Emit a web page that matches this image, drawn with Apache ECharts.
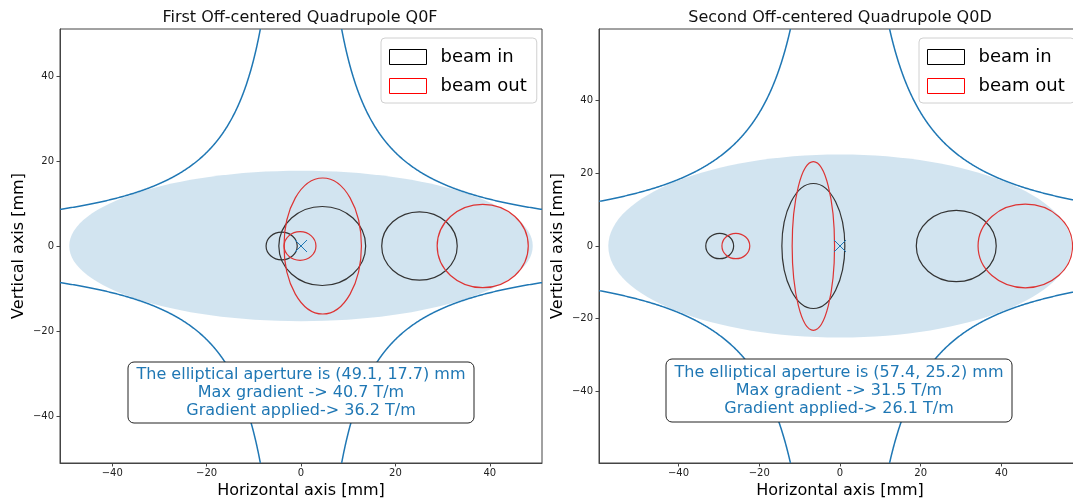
<!DOCTYPE html>
<html><head><meta charset="utf-8">
<script src="https://cdn.jsdelivr.net/npm/echarts@6/dist/echarts.min.js"></script>
<style>html,body{margin:0;padding:0;background:#fff}#c{width:1073px;height:502px}</style>
</head><body><div id="c"></div>
<script>
// ---------------- data ----------------
const titles = ['First Off-centered Quadrupole Q0F', 'Second Off-centered Quadrupole Q0D'];
const xTicks = [-40, -20, 0, 20, 40];
const yTicks = [-40, -20, 0, 20, 40];
const axisLimits = [51.06, 59.7];            // symmetric axis limits [mm]
const apertureSemiAxes = [[49.1, 17.7], [57.4, 25.2]];
const poleHyperbolaConst = [440, 733];       // |x*y| of the pole profile [mm^2]
// beam ellipses: [centerX, centerY, semiAxisX, semiAxisY]
const q0fBeamIn  = [[-4.1, 0, 3.3, 3.25], [4.5, 0, 9.2, 9.3], [25.1, 0, 8.0, 8.05]];
const q0fBeamOut = [[-0.2, 0, 3.37, 3.37], [4.6, 0, 8.2, 16.0], [38.5, 0, 9.65, 9.8]];
const q0dBeamIn  = [[-29.8, 0, 3.45, 3.5], [-6.6, 0, 7.8, 17.2], [28.8, 0, 9.9, 9.8]];
const q0dBeamOut = [[-25.8, 0, 3.45, 3.5], [-6.6, 0, 5.25, 23.2], [45.9, 0, 11.7, 11.5]];
const centerMarks = [[0, 0]];
const infoLines = [
  ['The elliptical aperture is (49.1, 17.7) mm', 'Max gradient -> 40.7 T/m', 'Gradient applied-> 36.2 T/m'],
  ['The elliptical aperture is (57.4, 25.2) mm', 'Max gradient -> 31.5 T/m', 'Gradient applied-> 26.1 T/m']
];
const legendNames = ['beam in', 'beam out'];

// ---------------- styles ----------------
const FONT = 'DejaVu Sans';
const C0 = '#1f77b4';
const BLACK_LINE = '#333333';
const RED_LINE = '#dd3333';

function ellipseSeries(name, data, idx, style, z) {
  return {
    type: 'custom', name: name, xAxisIndex: idx, yAxisIndex: idx, z: z,
    clip: true, silent: true,
    itemStyle: { color: style.stroke || style.fill },
    data: data,
    renderItem: function (params, api) {
      const c = api.coord([api.value(0), api.value(1)]);
      const s = api.size([api.value(2), api.value(3)]);
      return { type: 'ellipse', shape: { cx: c[0], cy: c[1], rx: s[0], ry: s[1] }, style: style };
    }
  };
}

function hyperbolaSeries(idx) {
  return {
    type: 'custom', xAxisIndex: idx, yAxisIndex: idx, z: 3, clip: true, silent: true,
    data: [[poleHyperbolaConst[idx], axisLimits[idx]]],
    renderItem: function (params, api) {
      const k = api.value(0), L = api.value(1);
      const x0 = k / L;
      const children = [];
      [1, -1].forEach(function (sx) {
        [1, -1].forEach(function (sy) {
          const pts = [];
          const N = 300;
          for (let i = 0; i <= N; i++) {
            const x = x0 * Math.pow(L / x0, i / N);
            pts.push(api.coord([sx * x, sy * k / x]));
          }
          children.push({ type: 'polyline', shape: { points: pts },
            style: { stroke: C0, lineWidth: 1.5, fill: null } });
        });
      });
      return { type: 'group', children: children };
    }
  };
}

function markSeries(idx) {
  return {
    type: 'custom', xAxisIndex: idx, yAxisIndex: idx, z: 6, silent: true,
    data: centerMarks,
    renderItem: function (params, api) {
      const c = api.coord([api.value(0), api.value(1)]);
      const h = 6;
      return { type: 'group', children: [
        { type: 'line', shape: { x1: c[0] - h, y1: c[1] - h, x2: c[0] + h, y2: c[1] + h }, style: { stroke: C0, lineWidth: 1 } },
        { type: 'line', shape: { x1: c[0] - h, y1: c[1] + h, x2: c[0] + h, y2: c[1] - h }, style: { stroke: C0, lineWidth: 1 } }
      ]};
    }
  };
}

const minusFmt = function (v) { return String(v).replace('-', '\u2212'); };

function xAxisCfg(idx) {
  return {
    type: 'value', gridIndex: idx, min: -axisLimits[idx], max: axisLimits[idx],
    name: 'Horizontal axis [mm]', nameLocation: 'middle', nameGap: 20,
    nameTextStyle: { fontFamily: FONT, fontSize: 16, color: '#000' },
    axisLine: { show: true, onZero: false, lineStyle: { color: '#444', width: 1 } },
    axisTick: { show: true, inside: false, length: 3.5, customValues: xTicks, lineStyle: { color: '#444' } },
    axisLabel: { customValues: xTicks, formatter: minusFmt, fontFamily: FONT, fontSize: 10, color: '#222', margin: 5 },
    splitLine: { show: false }
  };
}
function yAxisCfg(idx) {
  return {
    type: 'value', gridIndex: idx, min: -axisLimits[idx], max: axisLimits[idx],
    name: 'Vertical axis [mm]', nameLocation: 'middle', nameGap: 33, nameRotate: 90,
    nameTextStyle: { fontFamily: FONT, fontSize: 16, color: '#000' },
    axisLine: { show: true, onZero: false, lineStyle: { color: '#444', width: 1 } },
    axisTick: { show: true, inside: false, length: 3.5, customValues: yTicks, lineStyle: { color: '#444' } },
    axisLabel: { customValues: yTicks, formatter: minusFmt, fontFamily: FONT, fontSize: 10, color: '#222', margin: 6 },
    splitLine: { show: false }
  };
}

function legendCfg(left) {
  return {
    left: left, top: 38, orient: 'vertical',
    backgroundColor: 'rgba(255,255,255,0.85)', borderColor: '#d0d0d0', borderWidth: 1, borderRadius: 4,
    padding: [10, 10, 8, 8], itemGap: 11, itemWidth: 37, itemHeight: 15,
    textStyle: { fontFamily: FONT, fontSize: 18, color: '#000', padding: [0, 0, 0, 9] },
    selectedMode: false,
    data: [
      { name: legendNames[0], icon: 'rect', itemStyle: { color: 'rgba(0,0,0,0)', borderColor: '#000', borderWidth: 1 } },
      { name: legendNames[1], icon: 'rect', itemStyle: { color: 'rgba(0,0,0,0)', borderColor: '#ff0000', borderWidth: 1 } }
    ]
  };
}

const grids = [
  { left: 60, top: 29, width: 482, height: 434 },
  { left: 599, top: 29, width: 482, height: 434 }
];

function infoGraphic(box, lines) {
  return [
    { type: 'rect', z: 100, shape: { x: box[0], y: box[1], width: box[2], height: box[3], r: 6 },
      style: { fill: '#ffffff', stroke: '#222', lineWidth: 1 } },
    { type: 'text', z: 101, x: box[0] + box[2] / 2, y: box[1] + box[3] / 2,
      style: { text: lines.join('\n'), fill: C0, font: '16px "DejaVu Sans"', lineHeight: 18,
        align: 'center', verticalAlign: 'middle', textAlign: 'center', textVerticalAlign: 'middle' } }
  ];
}
function titleGraphic(x, text) {
  return { type: 'text', z: 100, x: x, y: 18,
    style: { text: text, fill: '#111', font: '16px "DejaVu Sans"',
      align: 'center', verticalAlign: 'middle', textAlign: 'center', textVerticalAlign: 'middle' } };
}

const chart = echarts.init(document.getElementById('c'), null, { renderer: 'canvas' });
const apStyle = { fill: 'rgba(31,119,180,0.2)', stroke: null };
const inStyle = { fill: null, stroke: BLACK_LINE, lineWidth: 1.2 };
const outStyle = { fill: null, stroke: RED_LINE, lineWidth: 1.2 };

chart.setOption({
  animation: false,
  backgroundColor: '#ffffff',
  grid: grids.map(function (g) { return Object.assign({ show: true, borderColor: '#444', borderWidth: 1, backgroundColor: 'rgba(0,0,0,0)', outerBoundsMode: 'none', containLabel: false }, g); }),
  xAxis: [xAxisCfg(0), xAxisCfg(1)],
  yAxis: [yAxisCfg(0), yAxisCfg(1)],
  legend: [legendCfg(381), legendCfg(919)],
  series: [
    ellipseSeries('aperture0', [[0, 0, apertureSemiAxes[0][0], apertureSemiAxes[0][1]]], 0, apStyle, 1),
    hyperbolaSeries(0),
    ellipseSeries(legendNames[0], q0fBeamIn, 0, inStyle, 4),
    ellipseSeries(legendNames[1], q0fBeamOut, 0, outStyle, 5),
    markSeries(0),
    ellipseSeries('aperture1', [[0, 0, apertureSemiAxes[1][0], apertureSemiAxes[1][1]]], 1, apStyle, 1),
    hyperbolaSeries(1),
    ellipseSeries(legendNames[0], q0dBeamIn, 1, inStyle, 4),
    ellipseSeries(legendNames[1], q0dBeamOut, 1, outStyle, 5),
    markSeries(1)
  ],
  graphic: [
    titleGraphic(300, titles[0]),
    titleGraphic(840, titles[1])
  ].concat(infoGraphic([128, 362, 346, 61], infoLines[0]))
   .concat(infoGraphic([666, 359, 346, 63], infoLines[1]))
});
</script>
</body></html>
